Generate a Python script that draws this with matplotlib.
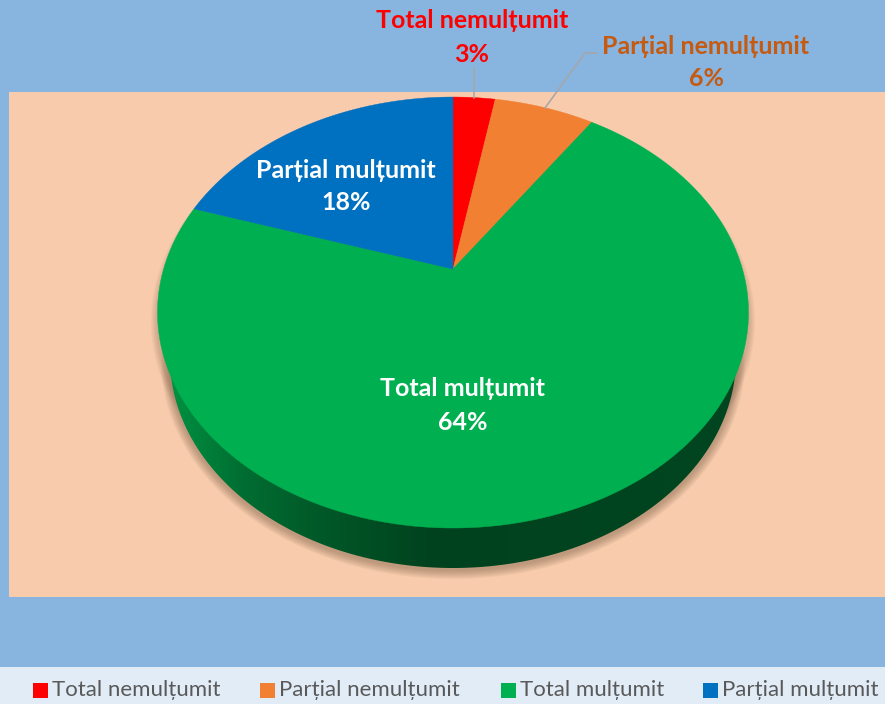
#!/usr/bin/env python3
import numpy as np
import matplotlib
matplotlib.use('Agg')
import matplotlib.pyplot as plt
from matplotlib.patches import Polygon, Rectangle

categories = ['Total nemulțumit', 'Parțial nemulțumit', 'Total mulțumit', 'Parțial mulțumit']
# labels round these; the slices do not sum to 100 in the source either
values = [2.55, 6.05, 64.2, 18.2]
colors = ['#FF0000', '#F18032', '#00B050', '#0070C0']
label_colors = ['#FF0000', '#C55A11', '#FFFFFF', '#FFFFFF']
label_pos = [(472, 21, 54), (706, 47, 79), (463, 389, 422), (346, 170, 202)]
legend_x = [33, 260, 501, 703]

plt.rcParams['font.family'] = ['Lato', 'Noto Sans', 'DejaVu Sans']

# Perspective pie: apex on screen, disk tilted backwards
cx, cy = 453, 269
k = 0.202
a, b = 289.4, 206.7


def project(theta):
    u, v = np.sin(theta), np.cos(theta)
    w = 1 + k * v
    return cx + a * u / w, cy - b * v / w


fig = plt.figure(figsize=(8.85, 7.04), dpi=100)
ax = fig.add_axes([0, 0, 1, 1])
ax.axis('off')

ax.add_patch(Rectangle((0, 0), 885, 704, fc='#88B4E0', ec='none', zorder=0))
ax.add_patch(Rectangle((9, 92), 876, 505, fc='#F7CBAC', ec='none', zorder=0))
ax.add_patch(Rectangle((0, 667), 885, 37, fc='#E2ECF7', ec='none', zorder=0))

# Bottom rim of the disk
xb0, yb0, rxb, ryb = 453, 358, 283, 210
phi = np.linspace(0, 2 * np.pi, 400)
xb = xb0 + rxb * np.cos(phi)
yb = yb0 + ryb * np.sin(phi)
xt, yt = project(phi)

# Soft shadow under the pie, only showing below and at the sides
for d in range(9, 0, -1):
    sx = (rxb + d) / rxb
    sy = (ryb + d) / ryb
    ax.add_patch(Polygon(np.c_[xb0 + rxb * sx * np.cos(phi), yb0 + 2 + ryb * sy * np.sin(phi)],
                         fc='#8A6A50', ec='none', alpha=0.07, zorder=1))
    ax.add_patch(Polygon(np.c_[453 + (xt - 453) * (1 + d / 400), 312 + (yt - 312) * (1 + d / 400) + 9],
                         fc='#8A6A50', ec='none', alpha=0.04, zorder=1))

# Side wall, gradient left to right
grad_x = np.arange(170, 740)
stops_x = [170, 240, 320, 430, 740]
grad = np.stack([np.interp(grad_x, stops_x, s) for s in
                 ([0, 0, 0, 0, 0], [145, 110, 88, 66, 70], [65, 50, 40, 30, 32])], axis=-1) / 255
wall = ax.imshow(grad[np.newaxis, :, :], extent=(170, 740, 570, 300), aspect='auto', zorder=2)
wall.set_clip_path(Polygon(np.c_[xb, yb], transform=ax.transData))

# Slices, clockwise from the top
fractions = np.array(values) / np.sum(values)
edges = np.concatenate(([0], np.cumsum(fractions))) * 2 * np.pi
for i, color in enumerate(colors):
    theta = np.linspace(edges[i], edges[i + 1], 200)
    x, y = project(theta)
    ax.add_patch(Polygon(np.c_[np.r_[cx, x], np.r_[cy, y]], fc=color, ec=color, lw=0.3, zorder=3))

# Leader lines
ax.plot([474, 474], [68, 98], color='#A6A6A6', lw=1.1, zorder=4)
ax.plot([597, 585, 545], [53, 53, 108], color='#A6A6A6', lw=1.1, zorder=4)

# Data labels
for name, val, col, (lx, ly1, ly2) in zip(categories, values, label_colors, label_pos):
    ax.text(lx, ly1, name, color=col, fontsize=18, fontweight='bold', ha='center', va='center', zorder=5)
    ax.text(lx, ly2, f'{val:.0f}%', color=col, fontsize=18, fontweight='bold', ha='center', va='center', zorder=5)

# Legend
for name, color, lx in zip(categories, colors, legend_x):
    ax.add_patch(Rectangle((lx, 683), 15, 15, fc=color, ec='none', zorder=5))
    ax.text(lx + 19, 690, name, color='#595959', fontsize=16, ha='left', va='center', zorder=5)

ax.set_xlim(0, 885)
ax.set_ylim(704, 0)
fig.savefig('out.png', dpi=100)
